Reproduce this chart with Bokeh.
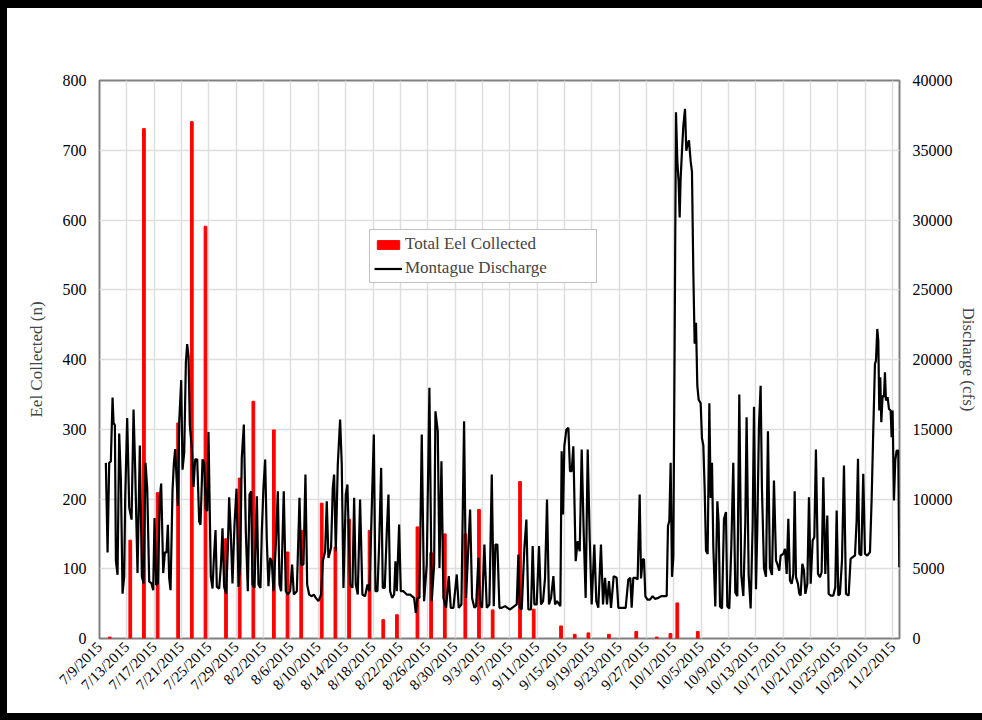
import pandas as pd
from bokeh.plotting import figure
from bokeh.models import (Range1d, LinearAxis, FixedTicker, SingleIntervalTicker,
                          Legend, LegendItem, Label)
from bokeh.embed import file_html
from bokeh.resources import INLINE

# ---------------- data ----------------
start_date = "2015-07-09"
axis_end_day = 117

tick_labels = ["7/9/2015", "7/13/2015", "7/17/2015", "7/21/2015", "7/25/2015", "7/29/2015",
               "8/2/2015", "8/6/2015", "8/10/2015", "8/14/2015", "8/18/2015", "8/22/2015",
               "8/26/2015", "8/30/2015", "9/3/2015", "9/7/2015", "9/11/2015", "9/15/2015",
               "9/19/2015", "9/23/2015", "9/27/2015", "10/1/2015", "10/5/2015", "10/9/2015",
               "10/13/2015", "10/17/2015", "10/21/2015", "10/25/2015", "10/29/2015", "11/2/2015"]

collection_dates = ["7/10/2015", "7/13/2015", "7/15/2015", "7/17/2015", "7/20/2015", "7/22/2015",
                    "7/24/2015", "7/27/2015", "7/29/2015", "7/31/2015", "8/3/2015", "8/5/2015",
                    "8/7/2015", "8/10/2015", "8/12/2015", "8/14/2015", "8/17/2015", "8/19/2015",
                    "8/21/2015", "8/24/2015", "8/26/2015", "8/28/2015", "8/31/2015", "9/2/2015",
                    "9/4/2015", "9/8/2015", "9/10/2015", "9/14/2015", "9/16/2015", "9/18/2015",
                    "9/21/2015", "9/25/2015", "9/28/2015", "9/30/2015", "10/1/2015", "10/4/2015"]
eel_counts = [2, 141, 731, 209, 309, 741, 591, 143, 230, 340, 299, 124,
              155, 194, 131, 171, 155, 27, 34, 160, 123, 150, 150, 185,
              41, 225, 42, 18, 6, 8, 6, 10, 2, 7, 51, 10]

# Montague discharge (cfs), read as (days since 7/9/2015, cfs)
discharge_readings = [
    (0.93, 12590), (1.18, 6170), (1.42, 12590), (1.66, 12700), (1.91, 17280), (2.06, 15430),
    (2.25, 15300), (2.40, 5560), (2.64, 4570), (2.88, 14690), (3.13, 11360), (3.37, 3210),
    (3.61, 4440), (3.76, 10120), (4.05, 15800), (4.35, 9380), (4.69, 8520), (4.98, 16420),
    (5.22, 12100), (5.56, 4690), (5.90, 13830), (6.20, 4440), (6.44, 3950), (6.73, 12590),
    (6.98, 10740), (7.27, 4070), (7.61, 3950), (7.85, 3460), (8.05, 8640), (8.29, 3830),
    (8.54, 3950), (8.83, 10120), (9.02, 11110), (9.32, 4690), (9.56, 6170), (9.80, 6170),
    (10.00, 8150), (10.19, 4320), (10.39, 3460), (10.68, 10620), (10.88, 12590), (11.07, 13580),
    (11.46, 9510), (11.66, 15550), (11.95, 18520), (12.14, 12100), (12.39, 13330), (12.63, 19750),
    (12.82, 21110), (13.02, 20250), (13.21, 15300), (13.51, 13580), (13.75, 10860), (13.99, 12840),
    (14.29, 12840), (14.58, 8390), (14.77, 8150), (15.07, 12840), (15.31, 12590), (15.55, 9260),
    (15.75, 9140), (15.94, 14810), (16.28, 4440), (16.53, 3580), (16.72, 5680), (16.97, 7780),
    (17.16, 3700), (17.50, 3580), (17.75, 5190), (17.99, 7900), (18.23, 3700), (18.52, 3210),
    (18.77, 6420), (18.96, 10120), (19.21, 7410), (19.45, 3950), (19.74, 8150), (20.04, 10740),
    (20.33, 3700),
    (20.57, 5300), (20.81, 12950), (21.11, 15340), (21.40, 7690), (21.69, 3390), (21.94, 10320),
    (22.18, 10560), (22.37, 3870), (22.67, 3630), (23.01, 10200), (23.25, 3870), (23.54, 3630),
    (23.74, 7690), (23.98, 10800), (24.23, 12830), (24.47, 6980), (24.71, 3750), (24.96, 5780),
    (25.20, 5540), (25.44, 3390), (25.79, 6740), (26.08, 10560), (26.32, 3870), (26.56, 3390),
    (26.95, 10560), (27.25, 3390), (27.54, 3150), (27.88, 3390), (28.17, 5300), (28.42, 3150),
    (28.86, 3390), (29.25, 10080), (29.49, 5300), (29.83, 5300), (30.12, 11750), (30.37, 3870),
    (30.66, 3150), (31.05, 3030), (31.34, 3150), (31.63, 2910), (32.02, 2680), (32.41, 3150),
    (32.66, 5540), (33.00, 6260), (33.24, 9840), (33.48, 5780), (33.87, 6500), (34.12, 10800),
    (34.31, 11750), (34.56, 6260), (34.85, 12470), (35.19, 15700), (35.43, 12470), (35.68, 3630),
    (36.02, 10320), (36.26, 11040), (36.65, 3870), (36.99, 3630), (37.24, 10080), (37.48, 3870),
    (37.77, 3150), (38.11, 9960), (38.45, 3150), (38.84, 3030), (39.19, 3870), (39.48, 3390),
    (40.12, 14620), (40.36, 3390), (40.65, 3390), (40.90, 6740), (41.19, 12230), (41.43, 3630),
    (41.72, 3630), (42.02, 7690), (42.26, 10320), (42.50, 3390), (42.80, 2910), (43.09, 3150),
    (43.28, 5540), (43.48, 3390), (43.82, 8170), (44.06, 3390), (44.45, 3390), (44.94, 3150),
    (45.43, 3150), (46.01, 2910), (46.26, 1840), (46.50, 2910), (46.79, 2910), (47.13, 14620),
    (47.47, 2680), (47.86, 5300), (48.25, 17970), (48.59, 2680), (48.94, 5300), (49.13, 16290),
    (49.47, 14860), (49.72, 5060), (50.01, 12710), (50.30, 2910), (50.69, 2200), (51.08, 4470),
    (51.37, 2200), (51.76, 2200), (52.25, 4590), (52.54, 2200), (52.93, 2440), (53.32, 15580),
    (53.61, 2910), (53.96, 6740), (54.20, 9250), (54.49, 2910), (54.83, 2200), (55.08, 2320),
    (55.42, 5780), (55.66, 2440), (55.95, 2200), (56.29, 6740), (56.64, 2200), (57.02, 2440),
    (57.37, 11750), (57.66, 2320), (57.90, 6740), (58.19, 6740), (58.49, 2200), (58.83, 2200),
    (59.32, 2320), (59.66, 2200), (60.05, 2080),
    (61.02, 2440), (61.26, 6020), (61.45, 2200), (61.75, 2080), (62.14, 6500), (62.43, 8530),
    (62.72, 2080), (63.11, 2080), (63.35, 6620), (63.60, 2440), (63.94, 2440), (64.28, 6620),
    (64.57, 2440), (64.87, 2680), (65.16, 4350), (65.45, 9960), (65.74, 2440), (66.04, 2910),
    (66.38, 4470), (66.62, 2440), (66.91, 2680), (67.40, 2320), (67.59, 13430), (67.79, 8890),
    (67.98, 13780), (68.28, 14980), (68.57, 15100), (68.81, 11990), (69.06, 11990), (69.30, 13780),
    (69.64, 5540), (69.93, 6980), (70.23, 6260), (70.52, 13550), (70.81, 7690), (71.10, 2910),
    (71.40, 13550), (71.69, 7210), (71.98, 2440), (72.37, 6740), (72.66, 2680), (72.95, 2200),
    (73.34, 6740), (73.64, 2440), (73.93, 4350), (74.22, 2440), (74.51, 4110), (74.81, 2200),
    (75.20, 4470), (75.63, 4350), (75.88, 2200), (76.37, 2200), (76.95, 2200), (77.34, 4230),
    (77.63, 4350), (77.83, 2200), (78.07, 4350), (78.41, 4350), (78.70, 4230), (79.00, 10320),
    (79.20, 4300), (79.44, 5680), (79.63, 5680), (79.83, 3040), (80.12, 2790), (80.51, 2790),
    (80.90, 3040), (81.24, 2840), (81.73, 2915), (82.22, 3040), (82.95, 3040), (83.14, 8070),
    (83.34, 8440), (83.53, 12590), (83.73, 4420), (83.92, 5800), (84.12, 21640), (84.31, 37720),
    (84.51, 34200), (84.70, 32690), (84.85, 30180), (84.99, 32950), (85.19, 34960), (85.38, 36720),
    (85.63, 37970), (85.82, 34960), (86.02, 35460), (86.21, 35710), (86.46, 34200), (86.65, 33450),
    (86.85, 26160), (87.04, 21130), (87.24, 22640), (87.43, 18120), (87.63, 17110), (87.92, 16860),
    (88.11, 14350), (88.31, 13850), (88.50, 10830), (88.70, 6310), (88.94, 6060), (89.19, 16860),
    (89.38, 10080), (89.58, 12590), (89.77, 6560), (90.06, 2290), (90.36, 9830), (90.55, 8320),
    (90.75, 2290), (91.04, 2160), (91.33, 8570), (91.62, 9070), (91.82, 2290), (92.11, 2160),
    (92.40, 6560), (92.69, 12590), (92.99, 3290), (93.28, 3040), (93.57, 17490), (93.86, 4550),
    (94.16, 3040), (94.45, 8320), (94.64, 15860), (94.94, 4550), (95.23, 2160), (95.52, 8070),
    (95.72, 16610), (96.01, 3540), (96.20, 7820), (96.45, 15350), (96.69, 18120), (96.88, 10830),
    (97.18, 5050), (97.47, 4420), (97.76, 14850), (98.05, 5050), (98.35, 4550), (98.64, 11330),
    (98.94, 5590), (99.13, 5350), (99.42, 4870), (99.62, 5950), (100.01, 6070), (100.25, 6430),
    (100.50, 4630), (100.74, 8580), (100.98, 4160), (101.23, 3920), (101.47, 4630), (101.67, 10560),
    (101.86, 4400), (102.15, 3920), (102.35, 3200), (102.54, 3080), (102.79, 5350), (103.03, 4870),
    (103.23, 3200), (103.52, 3920), (103.76, 10130), (104.01, 3920), (104.30, 7020), (104.54, 7260),
    (104.78, 13550), (105.08, 4630), (105.37, 4400), (105.61, 4750), (105.86, 11560), (106.15, 4630),
    (106.44, 8820), (106.64, 3200), (106.93, 3080), (107.32, 3080), (107.61, 3680), (107.81, 9170),
    (108.05, 3080), (108.29, 3200), (108.59, 5590), (108.88, 12400), (109.17, 3200), (109.56, 3080),
    (109.85, 5710), (110.15, 5830), (110.49, 5950), (110.73, 8460), (110.93, 12880), (111.12, 6070),
    (111.41, 5950), (111.70, 11800), (111.95, 6070), (112.29, 5950), (112.68, 6190), (112.92, 9890),
    (113.17, 15030), (113.41, 19690), (113.56, 19920), (113.75, 22190), (113.90, 21360), (114.04, 16340),
    (114.19, 18730), (114.34, 15500), (114.53, 17420), (114.73, 17300), (114.87, 19090), (115.02, 17060),
    (115.26, 17300), (115.46, 16460), (115.70, 16340), (115.85, 14430), (115.99, 16340), (116.19, 9890),
    (116.38, 12760), (116.58, 13470), (116.82, 13470), (116.97, 5110),
]
discharge_day = [d for d, _ in discharge_readings]
discharge_cfs = [q for _, q in discharge_readings]

# ---------------- derived positions (via dates) ----------------
t0 = pd.Timestamp(start_date)
tick_days = [(pd.to_datetime(s, format="%m/%d/%Y") - t0).days for s in tick_labels]
bar_days = [(pd.to_datetime(s, format="%m/%d/%Y") - t0).days + 0.5 for s in collection_dates]

FONT = "Liberation Serif"
W, H = 982, 720

p = figure(width=W, height=H, output_backend="svg", toolbar_location=None,
           x_range=Range1d(0, axis_end_day), y_range=Range1d(0, 800),
           min_border_left=99, min_border_right=83, min_border_top=80, min_border_bottom=82,
           background_fill_color="white", border_fill_color="white", border_fill_alpha=0)
p.styles = {"box-shadow": "inset 7px 8px 0 0 #000, inset 0 -7px 0 0 #000"}
p.extra_y_ranges = {"q": Range1d(0, 40000)}

p.outline_line_color = "#808080"
p.outline_line_width = 2

bars = p.vbar(x=bar_days, top=eel_counts, width=0.4, color="#ff0000")
line = p.line(x=discharge_day, y=discharge_cfs, y_range_name="q",
              line_color="black", line_width=2.2)

# axes
xa = p.xaxis[0]
xa.ticker = FixedTicker(ticks=tick_days)
xa.major_label_overrides = {d: s for d, s in zip(tick_days, tick_labels)}
xa.major_label_orientation = 0.785398
xa.major_label_text_font = FONT
xa.major_label_text_font_size = "15px"
xa.major_label_text_color = "black"
xa.major_label_standoff = 6
xa.major_tick_out = 0
xa.major_tick_in = 0
xa.axis_line_color = None
xa.major_tick_line_color = None
xa.minor_tick_line_color = None

ya = p.yaxis[0]
ya.ticker = SingleIntervalTicker(interval=100, num_minor_ticks=0)
ya.axis_label = "Eel Collected (n)"
ya.axis_label_text_font = FONT
ya.axis_label_text_font_style = "normal"
ya.axis_label_text_font_size = "17px"
ya.axis_label_standoff = 14
ya.major_label_text_font = FONT
ya.major_label_text_font_size = "16px"
ya.major_label_text_color = "black"
ya.major_label_standoff = 13
ya.major_tick_out = 0
ya.major_tick_in = 0
ya.axis_line_color = None
ya.major_tick_line_color = None
ya.minor_tick_line_color = None

ra = LinearAxis(y_range_name="q", ticker=SingleIntervalTicker(interval=5000, num_minor_ticks=0))
ra.axis_label = "Discharge (cfs)"
ra.axis_label_text_font = FONT
ra.axis_label_text_font_style = "normal"
ra.axis_label_text_font_size = "17px"
ra.axis_label_standoff = 3
ra.major_label_text_font = FONT
ra.major_label_text_font_size = "16px"
ra.major_label_text_color = "black"
ra.major_label_standoff = 13
ra.major_tick_out = 0
ra.major_tick_in = 0
ra.axis_line_color = None
ra.major_tick_line_color = None
ra.minor_tick_line_color = None
p.add_layout(ra, "right")

p.xgrid.ticker = FixedTicker(ticks=tick_days)
p.xgrid.grid_line_color = "#dedede"
p.xgrid.grid_line_width = 1.5
p.ygrid.grid_line_color = "#dedede"
p.ygrid.grid_line_width = 1.5

# title
title = Label(x=422, y=586, x_units="screen", y_units="screen",
              text="Eel Collection and Discharge at Montague City USGS Gage",
              text_align="center", text_baseline="middle",
              text_font=FONT, text_font_size="18px", text_color="black")
p.add_layout(title)

legend = Legend(items=[LegendItem(label="Total Eel Collected", renderers=[bars]),
                       LegendItem(label="Montague Discharge", renderers=[line])],
                location=(270, 355))
legend.label_text_font = FONT
legend.label_text_font_size = "17px"
legend.glyph_width = 28
legend.glyph_height = 11
legend.label_standoff = 3
legend.label_width = 187
legend.padding = 4
legend.spacing = 4
legend.margin = 0
legend.border_line_color = "#808080"
legend.border_line_width = 1.2
legend.background_fill_color = "white"
legend.background_fill_alpha = 1
p.add_layout(legend)

open("out.html", "w").write(file_html(p, INLINE))
